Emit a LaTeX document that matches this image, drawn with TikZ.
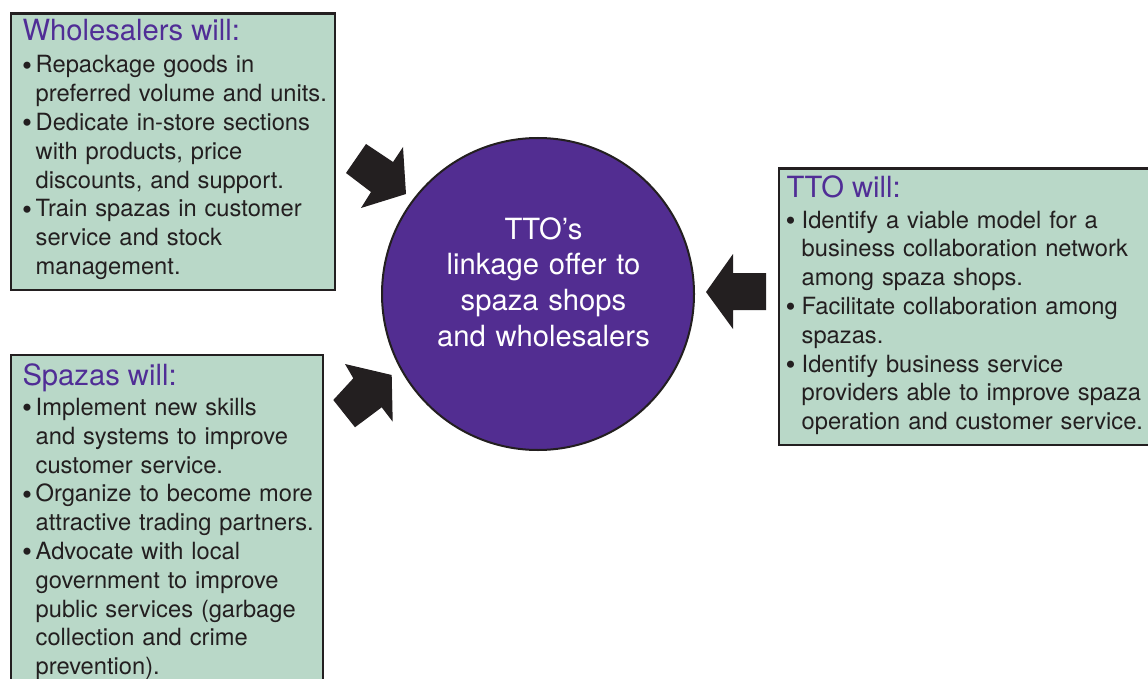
\documentclass[tikz,border=0pt]{standalone}
\usepackage{fontspec}
\setmainfont{TeX Gyre Heros}
\definecolor{boxfill}{RGB}{185,216,200}
\definecolor{ink}{RGB}{35,31,32}
\definecolor{hubpurple}{RGB}{82,45,145}
\definecolor{titlepurple}{RGB}{80,45,150}
\newcommand\bul[1]{\makebox[#1][l]{\raisebox{-2.1pt}{\scalebox{1.2}{\textbullet}}}}
\newcommand\ind[1]{\hspace*{#1}}
\begin{document}
\begin{tikzpicture}[x=1pt,y=-1pt,
  panel/.style={draw=ink, line width=2.4pt, fill=boxfill, rectangle, anchor=north west, inner sep=0pt},
  ttl/.style={anchor=base west, inner sep=0pt, text=titlepurple, font=\fontsize{29.2}{34}\selectfont},
  body/.style={anchor=base west, inner sep=0pt, text=ink, align=left, text width=380pt, font=\fontsize{23.7}{28.8}\selectfont},
  hubtxt/.style={anchor=base, inner sep=0pt, text=white, align=center, text width=300pt, font=\fontsize{29.2}{35.7}\selectfont},
  blockarrow/.style={fill=ink, draw=none}]
\useasboundingbox (0,0) rectangle (1148,679);
\clip (0,0) rectangle (1148,679);
% panels
\node[panel, minimum width=324pt, minimum height=276.5pt] (wbox) at (9.5,12.5) {};
\node[panel, minimum width=312pt, minimum height=360pt] (sbox) at (9.5,353.5) {};
\node[panel, minimum width=390pt, minimum height=276pt] (tbox) at (777.5,167.5) {};
% hub
\node[circle, fill=hubpurple, draw=ink, line width=2pt, minimum size=312pt, inner sep=0pt] (hub) at (538,294) {};
\node[hubtxt] (hubtext) at (543.5,239) {TTO’s\\linkage offer to\\spaza shops\\and wholesalers};
% wholesalers
\node[ttl] (wtitle) at (22.3,41) {Wholesalers will:};
\node[body] (wbody) at (22,73) {\bul{13.5pt}Repackage goods in\\
\ind{13.5pt}preferred volume and units.\\
\bul{13.5pt}Dedicate in-store sections\\
\ind{13.5pt}with products, price\\
\ind{13.5pt}discounts, and support.\\
\bul{13.5pt}Train spazas in customer\\
\ind{13.5pt}service and stock\\
\ind{13.5pt}management.};
% spazas
\node[ttl] (stitle) at (22.3,385) {Spazas will:};
\node[body] (sbody) at (22,415.5) {\bul{13.5pt}Implement new skills\\
\ind{13.5pt}and systems to improve\\
\ind{13.5pt}customer service.\\
\bul{13.5pt}Organize to become more\\
\ind{13.5pt}attractive trading partners.\\
\bul{13.5pt}Advocate with local\\
\ind{13.5pt}government to improve\\
\ind{13.5pt}public services (garbage\\
\ind{13.5pt}collection and crime\\
\ind{13.5pt}prevention).};
% tto
\node[ttl] (ttitle) at (786.5,198) {TTO will:};
\node[body] (tbody) at (785.5,228) {\bul{16pt}Identify a viable model for a\\
\ind{16pt}business collaboration network\\
\ind{16pt}among spaza shops.\\
\bul{16pt}Facilitate collaboration among\\
\ind{16pt}spazas.\\
\bul{16pt}Identify business service\\
\ind{16pt}providers able to improve spaza\\
\ind{16pt}operation and customer service.};
% block arrows
\fill[blockarrow] (346,173) -- (366,144) -- (393,162) -- (403,147) -- (406,194) -- (361,208) -- (371,192) -- cycle;
\fill[blockarrow] (391.7,375) -- (345,364) -- (353.3,378.3) -- (333.3,400) -- (355,427.3) -- (381.7,407.3) -- (392.7,421.7) -- cycle;
\fill[blockarrow] (706,292) -- (733,254) -- (733,273) -- (766,273) -- (766,310) -- (733,310) -- (733,329) -- cycle;
\end{tikzpicture}
\end{document}
